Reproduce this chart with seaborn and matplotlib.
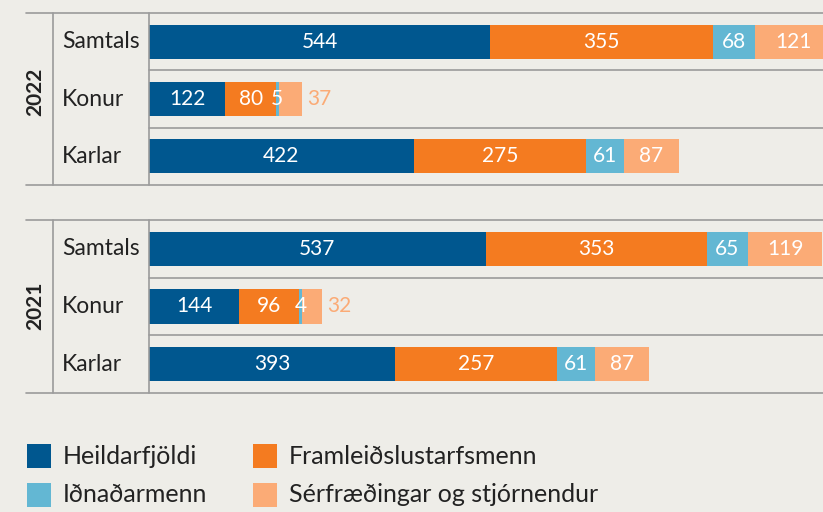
import matplotlib.pyplot as plt
import matplotlib.transforms as mtransforms
from matplotlib.lines import Line2D
from matplotlib.patches import Rectangle
import numpy as np
import seaborn as sns

# data
groups = ["Samtals", "Konur", "Karlar"]
series = ["Heildarfjöldi", "Iðnaðarmenn", "Framleiðslustarfsmenn", "Sérfræðingar og stjórnendur"]
stack_order = ["Heildarfjöldi", "Framleiðslustarfsmenn", "Iðnaðarmenn", "Sérfræðingar og stjórnendur"]
years = ["2022", "2021"]

heild_2022 = [544, 122, 422]
framl_2022 = [355, 80, 275]
idn_2022 = [68, 5, 61]
serf_2022 = [121, 37, 87]

heild_2021 = [537, 144, 393]
framl_2021 = [353, 96, 257]
idn_2021 = [65, 4, 61]
serf_2021 = [119, 32, 87]

values = {
    "2022": [heild_2022, framl_2022, idn_2022, serf_2022],
    "2021": [heild_2021, framl_2021, idn_2021, serf_2021],
}

colors = {
    "Heildarfjöldi": "#00578F",
    "Framleiðslustarfsmenn": "#F47B20",
    "Iðnaðarmenn": "#63B7D3",
    "Sérfræðingar og stjórnendur": "#FBAB76",
}

BG = "#EEEDE8"
LINE = "#9B9B9B"
TXT = "#222222"

sns.set_theme(style="white")
plt.rcParams["font.family"] = ["Lato", "DejaVu Sans"]

W, H = 823, 512
fig = plt.figure(figsize=(W / 100, H / 100), dpi=100, facecolor=BG)


def fx(px):
    return px / W


def fy(py):
    return 1 - py / H


def hline(y, x0, x1):
    fig.add_artist(Line2D([fx(x0), fx(x1)], [fy(y), fy(y)], color=LINE, lw=1.2,
                          transform=fig.transFigure))


def vline(x, y0, y1):
    fig.add_artist(Line2D([fx(x), fx(x)], [fy(y0), fy(y1)], color=LINE, lw=1.2,
                          transform=fig.transFigure))


# panel top, bottom and year label centre, in pixels
panels = {"2022": (13, 185, 92), "2021": (220, 393, 306)}
XMAX = 1075

for year in years:
    top, bottom, ycenter = panels[year]
    ax = fig.add_axes([fx(149), fy(bottom), fx(W - 149), (bottom - top) / H])
    ax.set_facecolor("none")

    segs = values[year]
    cum = np.cumsum(np.array(segs), axis=0)
    # draw cumulative bars from longest to shortest so they stack
    for i in range(len(stack_order) - 1, -1, -1):
        sns.barplot(x=cum[i], y=groups, orient="h", color=colors[stack_order[i]],
                    saturation=1, width=0.59, linewidth=0, ax=ax)

    ax.set_xlim(0, XMAX)
    ax.set_ylim(2.5, -0.5)
    ax.set_xticks([])
    ax.set_yticks([])
    ax.set_xlabel("")
    ax.set_ylabel("")
    for s in ax.spines.values():
        s.set_visible(False)

    row_tr = mtransforms.blended_transform_factory(fig.transFigure, ax.transData)
    for r, g in enumerate(groups):
        left = 0
        for i, name in enumerate(stack_order):
            v = segs[i][r]
            if i == len(stack_order) - 1 and v < 45:
                ax.text(left + v + 8, r, str(v), ha="left", va="center",
                        fontsize=15, color=colors[name], clip_on=True)
            else:
                ax.text(left + v / 2, r, str(v), ha="center", va="center",
                        fontsize=15, color="white", clip_on=True)
            left += v
        ax.text(fx(62), r, g, transform=row_tr, fontsize=16.5,
                color=TXT, ha="left", va="center")

    # frame lines
    hline(top, 26, W)
    hline(bottom, 26, W)
    step = (bottom - top) / 3
    hline(top + step, 149, W)
    hline(top + 2 * step, 149, W)
    vline(53, top, bottom)
    vline(149, top, bottom)

    fig.text(fx(35.5), fy(ycenter), year, rotation=90, ha="center", va="center",
             fontsize=15, fontweight="bold", color=TXT)

# legend
legend_pos = [(27, 456), (27, 495), (253, 456), (253, 495)]
for name, (lx, ly) in zip(series, legend_pos):
    fig.add_artist(Rectangle((fx(lx), fy(ly + 12)), fx(24), 24 / H, color=colors[name],
                             transform=fig.transFigure, lw=0))
    fig.text(fx(lx + 36), fy(ly), name, fontsize=18, color=TXT, ha="left", va="center")

fig.savefig("out.png", dpi=100, facecolor=BG)
